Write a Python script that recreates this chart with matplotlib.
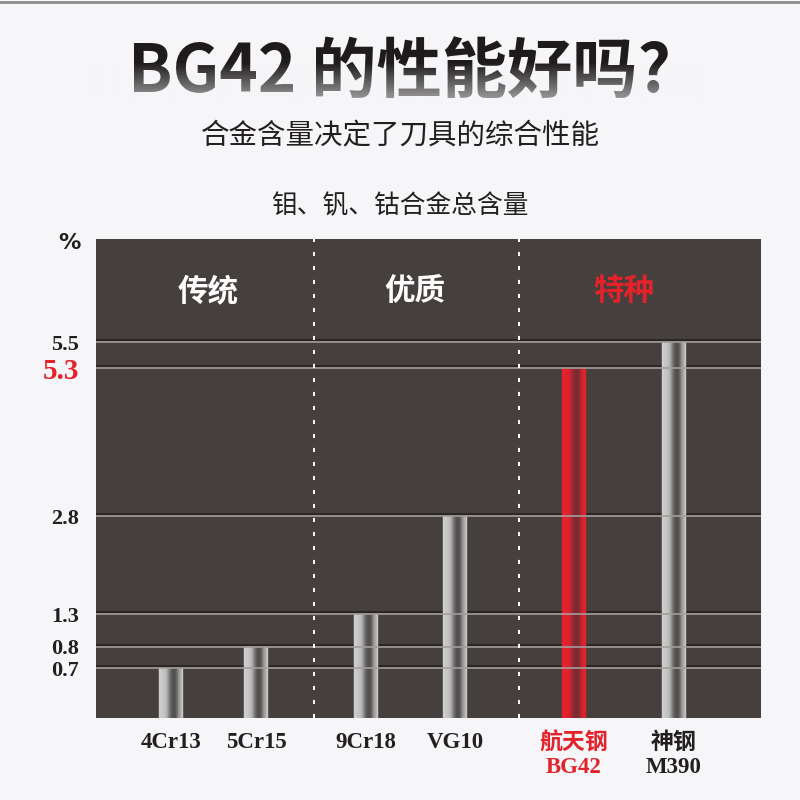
import numpy as np
import matplotlib
matplotlib.use("Agg")
import matplotlib.pyplot as plt
from matplotlib.colors import LinearSegmentedColormap, to_rgb
from matplotlib.lines import Line2D
from matplotlib.transforms import ScaledTranslation, blended_transform_factory

plt.rcParams["font.family"] = ["Noto Sans CJK SC", "DejaVu Sans"]

# ------------------------
# Data
# ------------------------
steels = ["4Cr13", "5Cr15", "9Cr18", "VG10", "航天钢\nBG42", "神钢\nM390"]
alloy_pct = [0.7, 0.8, 1.3, 2.8, 5.3, 5.5]
groups = ["传统", "优质", "特种"]
tick_vals = [0.7, 0.8, 1.3, 2.8, 5.3, 5.5]
tick_labels = ["0.7", "0.8", "1.3", "2.8", "5.3", "5.5"]
highlight_steel = "航天钢\nBG42"
highlight_group = "特种"
highlight_tick = "5.3"

TITLE = "BG42 的性能好吗?"
SUBTITLE = "合金含量决定了刀具的综合性能"
CHART_TITLE = "钼、钒、钴合金总含量"

# ------------------------
# Layout / style
# ------------------------
BG = "#f6f6f9"
PANEL = "#453f3d"
RED = "#e4222a"
DARK = "#231f20"

bar_x = [0.75, 1.60, 2.70, 3.59, 4.78, 5.78]
bar_w = 0.245
group_x = [1.12, 3.19, 5.28]
divider_x = [2.18, 4.23]

# the original y axis is stretched unevenly: value -> pixels above the baseline
knot_vals = [0, 0.7, 0.8, 1.3, 2.8, 5.3, 5.5, 7.0]
knot_px = [0, 50, 71, 104, 202, 350, 376, 479]


def fwd(v):
    return np.interp(v, knot_vals, knot_px)


def inv(p):
    return np.interp(p, knot_px, knot_vals)


def slice_colors(n, stops, cols):
    cmap = LinearSegmentedColormap.from_list("cyl", list(zip(stops, cols)))
    return [cmap((i + 0.5) / n) for i in range(n)]


gray_cyl = slice_colors(30, [0, 0.3, 0.55, 0.68, 0.88, 1.0],
                        ["#d2d2d2", "#bebebe", "#565252", "#545050", "#a8a8a8", "#cccccc"])
red_cyl = slice_colors(30, [0, 0.28, 0.55, 0.66, 0.86, 1.0],
                       ["#ec2029", "#e0222c", "#7a2c33", "#762c32", "#d4232d", "#ea2029"])

fig = plt.figure(figsize=(8, 8), dpi=100, facecolor=BG)

# ------------------------
# Header texts (overlay axes in pixel coords, y downwards)
# ------------------------
ov = fig.add_axes([0, 0, 1, 1], zorder=5)
ov.axis("off")
ov.patch.set_alpha(0)

ov.text(400, 72, TITLE, fontsize=47, fontweight="bold", color="#1f1b1b",
        ha="center", va="center", zorder=1)
# fade the lower part of the title glyphs into grey (background coloured veil)
veil = np.zeros((120, 1, 4))
veil[:, :, :3] = to_rgb(BG)
veil[:, 0, 3] = np.clip((np.linspace(0, 1, 120) - 0.38) / 0.62, 0, 1) * 0.62
ov.imshow(veil, extent=[90, 710, 102, 38], aspect="auto", zorder=2,
          interpolation="bilinear")
ov.set_xlim(0, 800)
ov.set_ylim(800, 0)

ov.text(400, 135, SUBTITLE, fontsize=20.5, color=DARK, ha="center", va="center")
ov.text(400, 206, CHART_TITLE, fontsize=18.5, color=DARK, ha="center", va="center")
ov.text(69, 243, "%", fontsize=16, fontweight="bold", color=DARK,
        ha="center", va="center", family="DejaVu Sans")

fig.add_artist(Line2D([0, 1], [0.998, 0.998], transform=fig.transFigure,
                      color="#8c8c8c", lw=2))

# ------------------------
# Chart
# ------------------------
ax = fig.add_axes([96 / 800, 82 / 800, 665 / 800, 479 / 800])
ax.set_facecolor(PANEL)
ax.set_yscale("function", functions=(fwd, inv))
ax.set_ylim(0, 7.0)
ax.set_xlim(0, 6.65)
for s in ax.spines.values():
    s.set_visible(False)

for x, v, name in zip(bar_x, alloy_pct, steels):
    cols = red_cyl if name == highlight_steel else gray_cyl
    n = len(cols)
    dx = bar_w / n
    for i, c in enumerate(cols):
        ax.bar(x - bar_w / 2 + (i + 0.5) * dx, v, width=dx, color=c,
               edgecolor=c, linewidth=0.3, zorder=2)

# grid lines with dark shadow just above
shadow = ax.get_yaxis_transform() + ScaledTranslation(0, 1.3 / 72, fig.dpi_scale_trans)
for v in tick_vals:
    ax.plot([0, 1], [v, v], transform=shadow, color="#2a2422", lw=1.3, zorder=1.5)
    ax.plot([0, 1], [v, v], transform=ax.get_yaxis_transform(),
            color="#a29e9c", lw=1.4, alpha=0.85, zorder=3)

for x in divider_x:
    ax.axvline(x, color="white", lw=1.4, ls=(0, (2.1, 5.1)), zorder=3)

hdr = blended_transform_factory(ax.transData, ax.transAxes)
for x, g in zip(group_x, groups):
    ax.text(x, 0.891, g, transform=hdr, fontsize=22, fontweight="bold",
            color=RED if g == highlight_group else "white",
            ha="center", va="center", zorder=4)

ax.set_yticks(tick_vals, tick_labels)
ax.yaxis.set_minor_locator(matplotlib.ticker.NullLocator())
ax.tick_params(axis="y", length=0, pad=12)
for lab in ax.get_yticklabels():
    lab.set_family(["Liberation Serif", "DejaVu Serif"])
    lab.set_fontweight("bold")
    if lab.get_text() == highlight_tick:
        lab.set_color(RED)
        lab.set_fontsize(21)
    else:
        lab.set_color(DARK)
        lab.set_fontsize(16)

ax.set_xticks(bar_x, steels)
ax.tick_params(axis="x", length=0, pad=10)
for lab in ax.get_xticklabels():
    lab.set_family(["Liberation Serif", "Noto Sans CJK SC"])
    lab.set_fontweight("bold")
    lab.set_fontsize(16.5)
    lab.set_linespacing(1.2)
    lab.set_color(RED if lab.get_text() == highlight_steel else DARK)

fig.savefig("out.png", dpi=100, facecolor=BG)
